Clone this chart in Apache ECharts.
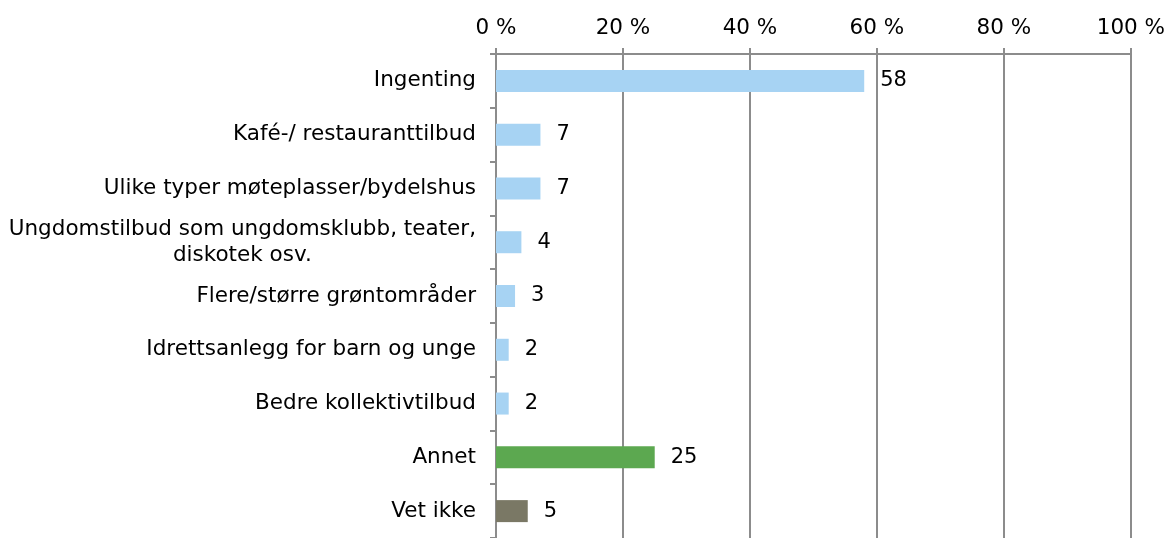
<!DOCTYPE html>
<html>
<head>
<meta charset="utf-8">
<script src="https://cdn.jsdelivr.net/npm/echarts@6/dist/echarts.min.js"></script>
<style>
html,body{margin:0;padding:0;background:#fff;}
#chart{width:1168px;height:538px;}
</style>
</head>
<body>
<div id="chart"></div>
<script>
const categories = [
  "Ingenting",
  "Kafé-/ restauranttilbud",
  "Ulike typer møteplasser/bydelshus",
  "Ungdomstilbud som ungdomsklubb, teater,\ndiskotek osv.",
  "Flere/større grøntområder",
  "Idrettsanlegg for barn og unge",
  "Bedre kollektivtilbud",
  "Annet",
  "Vet ikke"
];
const values = [58, 7, 7, 4, 3, 2, 2, 25, 5];
const groups = ["main","main","main","main","main","main","main","other","dontknow"];
const xTicks = [0, 20, 40, 60, 80, 100];

const palette = { main: "#A7D3F3", other: "#5CA850", dontknow: "#7A7865" };
const FONT = "DejaVu Sans";
const FS = 21.5;

const chart = echarts.init(document.getElementById('chart'), null, {renderer: 'canvas'});
chart.setOption({
  animation: false,
  backgroundColor: '#fff',
  grid: { left: 496, right: 37, top: 54, height: 490, containLabel: false },
  xAxis: {
    type: 'value',
    position: 'top',
    min: xTicks[0],
    max: xTicks[xTicks.length - 1],
    interval: xTicks[1] - xTicks[0],
    axisLine: { show: true, lineStyle: { color: '#8c8c8c', width: 2 } },
    axisTick: { show: true, length: 6, lineStyle: { color: '#8c8c8c', width: 2 } },
    splitLine: { show: true, lineStyle: { color: '#8c8c8c', width: 2 } },
    axisLabel: {
      margin: 15,
      fontFamily: FONT, fontSize: FS, color: '#000',
      formatter: v => v + ' %'
    }
  },
  yAxis: {
    type: 'category',
    data: categories,
    inverse: true,
    axisLine: { show: true, lineStyle: { color: '#8c8c8c', width: 2 } },
    axisTick: { show: true, length: 6, lineStyle: { color: '#8c8c8c', width: 2 } },
    axisLabel: {
      margin: 20,
      fontFamily: FONT, fontSize: FS, color: '#000', lineHeight: 26,
      formatter: v => v.split('\n').map(s => '{c|' + s + '}').join('\n'),
      rich: { c: { align: 'center', fontFamily: FONT, fontSize: FS, color: '#000', lineHeight: 26 } }
    }
  },
  series: [{
    type: 'bar',
    barWidth: 22,
    data: values.map((v, i) => ({ value: v, itemStyle: { color: palette[groups[i]] } })),
    label: {
      show: true, position: 'right', distance: 16,
      fontFamily: FONT, fontSize: 21, color: '#000'
    }
  }]
});
</script>
</body>
</html>
